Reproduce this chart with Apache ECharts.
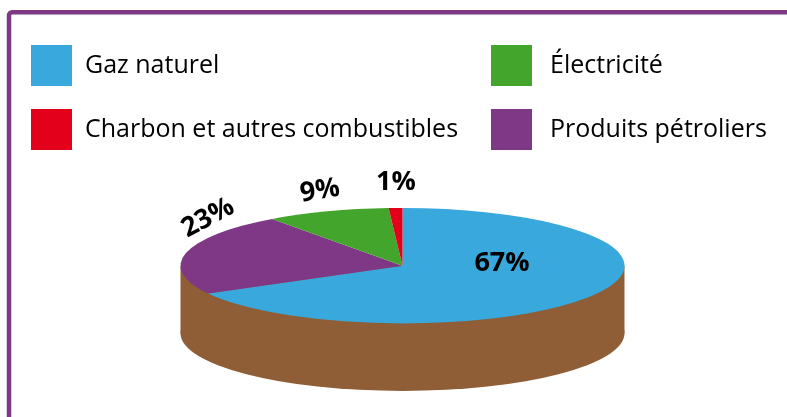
<!DOCTYPE html>
<html>
<head>
<meta charset="utf-8">
<title>Répartition</title>
<script src="https://cdn.jsdelivr.net/npm/echarts@6/dist/echarts.min.js"></script>
<style>
  html, body { margin: 0; padding: 0; background: #fff; }
  #chart { width: 787px; height: 417px; }
</style>
</head>
<body>
<div id="chart"></div>
<script>
// slices, clockwise from the top of the disc
const categories = ['Gaz naturel', 'Produits pétroliers', 'Électricité', 'Charbon et autres combustibles'];
const shares = [67, 23, 9, 1];
const sliceColors = ['#39a8dc', '#7f3886', '#43a52c', '#e2001a'];

const legendLeft = ['Gaz naturel', 'Charbon et autres combustibles'];
const legendRight = ['Électricité', 'Produits pétroliers'];

const FONT = '"Open Sans", sans-serif';
const disc = { cx: 402.5, cy: 265.7, rx: 222, ry: 57.7, depth: 67.5 };
const wallColor = '#8f5e36';

// label placement for each slice
const labelPlaces = [
  { x: 502, y: 263, rotate: 0 },
  { x: 208, y: 218, rotate: 28 },
  { x: 320, y: 191, rotate: 9 },
  { x: 396, y: 182, rotate: 0 }
];

const chart = echarts.init(document.getElementById('chart'), null, { renderer: 'canvas' });

const total = shares.reduce((a, b) => a + b, 0);
let acc = 0;
const sliceSeries = categories.map((name, i) => {
  const from = acc / total;
  acc += shares[i];
  const to = acc / total;
  return {
    name: name,
    type: 'custom',
    coordinateSystem: 'none',
    silent: true,
    z: 3,
    itemStyle: { color: sliceColors[i] },
    data: [[from, to, shares[i]]],
    renderItem: (params, api) => {
      const a0 = api.value(0) * 2 * Math.PI - Math.PI / 2;
      const a1 = api.value(1) * 2 * Math.PI - Math.PI / 2;
      return {
        type: 'sector',
        x: disc.cx,
        y: disc.cy,
        scaleY: disc.ry / disc.rx,
        shape: { cx: 0, cy: 0, r0: 0, r: disc.rx, startAngle: a0, endAngle: a1, clockwise: true },
        style: { fill: sliceColors[i] }
      };
    }
  };
});

// brown wall under the disc
const wallSeries = {
  name: 'wall',
  type: 'custom',
  coordinateSystem: 'none',
  silent: true,
  z: 2,
  data: [[0]],
  renderItem: () => ({
    type: 'group',
    children: [
      {
        type: 'circle',
        x: disc.cx,
        y: disc.cy + disc.depth,
        scaleY: disc.ry / disc.rx,
        shape: { cx: 0, cy: 0, r: disc.rx },
        style: { fill: wallColor }
      },
      {
        type: 'rect',
        shape: { x: disc.cx - disc.rx, y: disc.cy, width: disc.rx * 2, height: disc.depth },
        style: { fill: wallColor }
      }
    ]
  })
};

// percent labels
const labelSeries = {
  name: 'labels',
  type: 'custom',
  coordinateSystem: 'none',
  silent: true,
  z: 4,
  data: shares.map((v, i) => [v, i]),
  renderItem: (params, api) => {
    const place = labelPlaces[api.value(1)];
    return {
      type: 'text',
      x: place.x,
      y: place.y,
      rotation: place.rotate * Math.PI / 180,
      style: {
        text: api.value(0) + '%',
        font: 'bold 27px ' + FONT,
        fill: '#000',
        align: 'center',
        verticalAlign: 'middle'
      }
    };
  }
};

const legendCommon = {
  orient: 'vertical',
  top: 45,
  padding: 0,
  itemWidth: 41,
  itemHeight: 41,
  itemGap: 23,
  icon: 'rect',
  selectedMode: false
};

chart.setOption({
  animation: false,
  backgroundColor: '#fff',
  legend: [
    Object.assign({}, legendCommon, {
      left: 31,
      data: legendLeft,
      textStyle: { fontFamily: FONT, fontSize: 25, color: '#000', padding: [5, 0, 0, 8] }
    }),
    Object.assign({}, legendCommon, {
      left: 491,
      data: legendRight,
      textStyle: { fontFamily: FONT, fontSize: 25, color: '#000', padding: [5, 0, 0, 13] }
    })
  ],
  graphic: [{
    type: 'rect',
    silent: true,
    shape: { x: 9, y: 12.3, width: 900, height: 600, r: 3 },
    style: { fill: 'none', stroke: '#7f3886', lineWidth: 4.5 }
  }],
  series: [wallSeries].concat(sliceSeries, [labelSeries])
});
</script>
</body>
</html>
